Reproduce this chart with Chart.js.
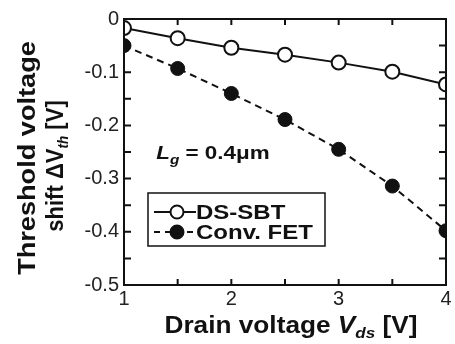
<!DOCTYPE html>
<html>
<head>
<meta charset="utf-8">
<script src="https://cdn.jsdelivr.net/npm/chart.js@4.4.1/dist/chart.umd.min.js"></script>
<style>
  html, body { margin: 0; padding: 0; background: #fff; }
  #wrap { width: 455px; height: 344px; }
</style>
</head>
<body>
<div id="wrap"><canvas id="chart"></canvas></div>
<script>
// Drain voltage (V) and threshold voltage shift (V) for the two devices
const drainVoltage = [1, 1.5, 2, 2.5, 3, 3.5, 4];
const dsSbtShift = [-0.017, -0.036, -0.054, -0.067, -0.082, -0.099, -0.123];
const convFetShift = [-0.05, -0.093, -0.14, -0.189, -0.245, -0.314, -0.398];

// Inward tick marks on all four sides of the frame
const xTickMarks = [1, 1.5, 2, 2.5, 3, 3.5, 4];
const yTickMarks = [0, -0.05, -0.1, -0.15, -0.2, -0.25, -0.3, -0.35, -0.4, -0.45, -0.5];

const FONT = "'Liberation Sans', Arial, Helvetica, sans-serif";
const INK = "#111";

function toPoints(ys) {
    return drainVoltage.map((x, i) => ({ x: x, y: ys[i] }));
}

// draws a run of text pieces with different fonts, stretched by sx along the text
function drawRuns(ctx, runs, x, y, align, sx) {
    sx = sx || 1;
    let total = 0;
    runs.forEach(r => { ctx.font = r.font; total += ctx.measureText(r.text).width; });
    ctx.save();
    ctx.translate(x, y);
    ctx.scale(sx, 1);
    let cx = align === "center" ? -total / 2 : 0;
    runs.forEach(r => {
        ctx.font = r.font;
        ctx.fillText(r.text, cx, r.dy || 0);
        cx += ctx.measureText(r.text).width;
    });
    ctx.restore();
}

const framePlugin = {
    id: "frame",
    afterDraw(chart) {
        const ctx = chart.ctx;
        const a = chart.chartArea;
        const xs = chart.scales.x, ys = chart.scales.y;
        ctx.save();
        ctx.strokeStyle = INK;
        ctx.fillStyle = INK;

        // frame
        ctx.lineWidth = 2;
        ctx.strokeRect(a.left, a.top, a.right - a.left, a.bottom - a.top);

        // ticks
        ctx.beginPath();
        xTickMarks.forEach(v => {
            const px = xs.getPixelForValue(v);
            ctx.moveTo(px, a.bottom); ctx.lineTo(px, a.bottom - 6);
            ctx.moveTo(px, a.top); ctx.lineTo(px, a.top + 6);
        });
        yTickMarks.forEach(v => {
            const py = ys.getPixelForValue(v);
            ctx.moveTo(a.left, py); ctx.lineTo(a.left + 7, py);
            ctx.moveTo(a.right, py); ctx.lineTo(a.right - 7, py);
        });
        ctx.stroke();

        ctx.textBaseline = "alphabetic";
        ctx.textAlign = "left";

        // x axis title
        drawRuns(ctx, [
            { text: "Drain voltage ", font: "bold 23px " + FONT },
            { text: "V", font: "italic bold 23px " + FONT },
            { text: "ds", font: "italic bold 15px " + FONT, dy: 5 },
            { text: " [V]", font: "bold 23px " + FONT }
        ], 291, 333, "center", 1.14);

        // y axis title, two rotated lines
        ctx.save();
        ctx.translate(35, 158);
        ctx.rotate(-Math.PI / 2);
        drawRuns(ctx, [{ text: "Threshold voltage", font: "bold 23px " + FONT }], 0, 0, "center", 1.18);
        ctx.restore();
        ctx.save();
        ctx.translate(63, 166);
        ctx.rotate(-Math.PI / 2);
        drawRuns(ctx, [
            { text: "shift \u0394V", font: "bold 23px " + FONT },
            { text: "th", font: "italic bold 14px " + FONT, dy: 5 },
            { text: " [V]", font: "bold 23px " + FONT }
        ], 0, 0, "center", 0.96);
        ctx.restore();

        // gate length annotation
        const lx = xs.getPixelForValue(1.3), ly = ys.getPixelForValue(-0.25) + 7;
        drawRuns(ctx, [
            { text: "L", font: "italic bold 19px " + FONT },
            { text: "g", font: "italic bold 13px " + FONT, dy: 5 },
            { text: " = 0.4\u03bcm", font: "bold 19px " + FONT }
        ], lx, ly, "left", 1.18);

        // legend box
        const bx = a.left + 24, by = a.top + 174, bw = 177, bh = 53;
        ctx.lineWidth = 1.5;
        ctx.strokeRect(bx, by, bw, bh);
        const rows = [
            { label: "DS-SBT", dash: [], fill: "#fff", y: by + 19 },
            { label: "Conv. FET", dash: [6, 5], fill: INK, y: by + 39 }
        ];
        rows.forEach(r => {
            ctx.lineWidth = 2;
            ctx.setLineDash(r.dash);
            ctx.beginPath();
            ctx.moveTo(bx + 6, r.y); ctx.lineTo(bx + 48, r.y);
            ctx.stroke();
            ctx.setLineDash([]);
            ctx.beginPath();
            ctx.arc(bx + 29, r.y, 6.5, 0, Math.PI * 2);
            ctx.fillStyle = r.fill;
            ctx.fill();
            ctx.stroke();
            ctx.fillStyle = INK;
            ctx.textBaseline = "middle";
            drawRuns(ctx, [{ text: r.label, font: "bold 20px " + FONT }], bx + 48, r.y + 1, "left", 1.2);
        });
        ctx.restore();
    }
};

new Chart(document.getElementById("chart"), {
    type: "scatter",
    data: {
        datasets: [
            {
                label: "DS-SBT",
                data: toPoints(dsSbtShift),
                showLine: true,
                borderColor: INK,
                borderWidth: 2,
                pointRadius: 7,
                pointBorderWidth: 2,
                pointBackgroundColor: "#fff",
                pointBorderColor: INK
            },
            {
                label: "Conv. FET",
                data: toPoints(convFetShift),
                showLine: true,
                borderColor: INK,
                borderWidth: 2,
                borderDash: [7, 5],
                pointRadius: 7,
                pointBorderWidth: 1,
                pointBackgroundColor: INK,
                pointBorderColor: INK
            }
        ]
    },
    options: {
        responsive: true,
        maintainAspectRatio: false,
        animation: false,
        layout: { padding: { top: 19, right: 2, left: 0, bottom: 0 } },
        plugins: {
            legend: { display: false },
            tooltip: { enabled: false }
        },
        scales: {
            x: {
                type: "linear",
                min: 1,
                max: 4,
                afterFit: (scale) => { scale.height = 59; },
                ticks: {
                    stepSize: 1,
                    padding: 2,
                    color: "#222",
                    font: { family: FONT, size: 20 },
                    maxRotation: 0,
                    autoSkip: false
                },
                grid: { display: false, drawTicks: false },
                border: { display: false }
            },
            y: {
                min: -0.5,
                max: 0,
                afterFit: (scale) => { scale.width = 124; },
                ticks: {
                    stepSize: 0.1,
                    padding: 5,
                    color: "#222",
                    font: { family: FONT, size: 20 },
                    callback: (v) => v === 0 ? "0" : Number(v).toFixed(1)
                },
                grid: { display: false, drawTicks: false },
                border: { display: false }
            }
        }
    },
    plugins: [framePlugin]
});
</script>
</body>
</html>
